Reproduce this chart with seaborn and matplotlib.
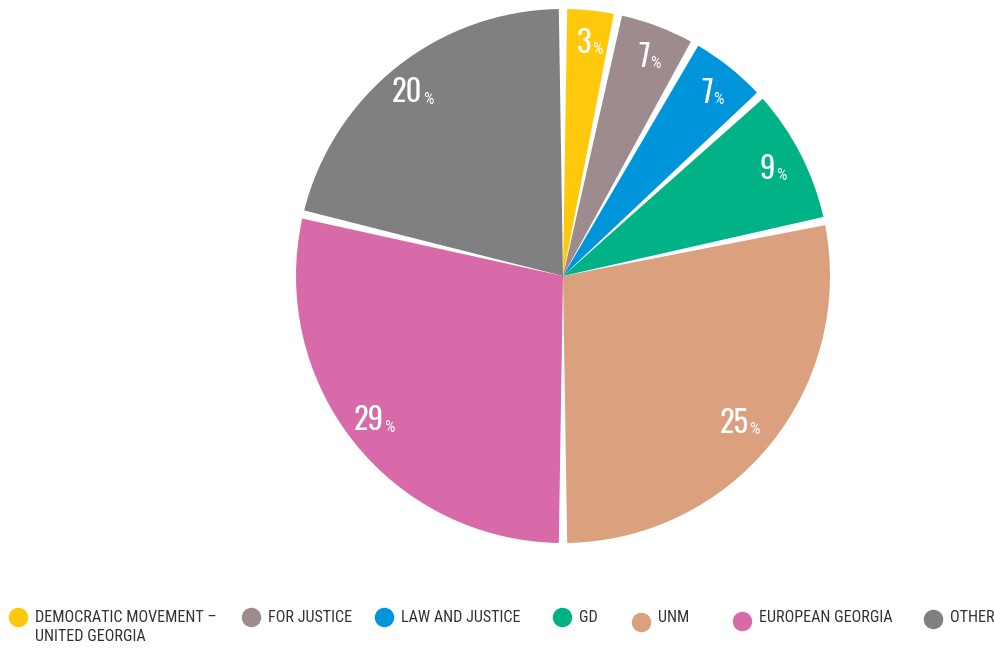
import matplotlib
matplotlib.use("Agg")
import matplotlib.pyplot as plt
import seaborn as sns
import numpy as np
from matplotlib.lines import Line2D
from matplotlib import font_manager

parties = ["DEMOCRATIC MOVEMENT –\nUNITED GEORGIA", "FOR JUSTICE", "LAW AND JUSTICE",
           "GD", "UNM", "EUROPEAN GEORGIA", "OTHER"]
shares = [3.3, 4.9, 5.0, 8.5, 28.3, 28.7, 21.3]          # slice sizes as drawn
share_labels = ["3", "7", "7", "9", "25", "29", "20"]   # printed labels
colors = ["#FFC90B", "#9E8B8E", "#0094DA", "#00B285", "#DBA07E", "#D86AAA", "#808083"]

sns.set_theme(style="white")
avail = {f.name for f in font_manager.fontManager.ttflist}


def pick(prefs, default="DejaVu Sans"):
    for p in prefs:
        if p in avail:
            return p
    return default


num_font = pick(["Oswald", "Bebas Neue", "Roboto Condensed", "Barlow Condensed"])
leg_font = pick(["Roboto Condensed", "Barlow Condensed", "Archivo Narrow", "Asap Condensed"])
plt.rcParams["font.family"] = [leg_font, "DejaVu Sans"]

W, H = 995, 648
fig = plt.figure(figsize=(W / 100, H / 100), dpi=100)
cx, cy, R = 563, 276, 267
ax = fig.add_axes([(cx - R) / W, 1 - (cy + R) / H, 2 * R / W, 2 * R / H])

wedges, _ = ax.pie(shares, colors=colors, startangle=90, counterclock=False,
                   radius=1.0, wedgeprops=dict(linewidth=0))
pad = 0.9
for w in wedges:
    w.set_theta1(w.theta1 + pad)
    w.set_theta2(w.theta2 - pad)
ax.set_xlim(-1, 1)
ax.set_ylim(-1, 1)
ax.set_aspect("equal")
ax.axis("off")

for w, lab in zip(wedges, share_labels):
    ang = np.deg2rad((w.theta1 + w.theta2) / 2)
    r = 0.875
    x, y = r * np.cos(ang), r * np.sin(ang)
    ax.annotate(lab, xy=(x, y), xytext=(3, 0), textcoords="offset points",
                color="white", fontsize=22, ha="right", va="center",
                family=[num_font, "DejaVu Sans"], fontweight="light")
    ax.annotate("%", xy=(x, y), xytext=(3.5, -4.5), textcoords="offset points",
                color="white", fontsize=12, ha="left", va="center",
                family=[leg_font, "DejaVu Sans"])

# legend
marker_x = [18, 251, 384, 562, 641, 742, 933]
marker_y = [617, 617, 617, 617, 622, 621, 619]
for px, py, c, name in zip(marker_x, marker_y, colors, parties):
    fig.add_artist(Line2D([px / W], [1 - py / H], marker="o", markersize=13,
                          color=c, linestyle="none", transform=fig.transFigure))
    fig.text((px + 17) / W, 1 - 610 / H, name, fontsize=11.6, color="#333333",
             ha="left", va="top", linespacing=1.3)

fig.savefig("out.png", dpi=100)
